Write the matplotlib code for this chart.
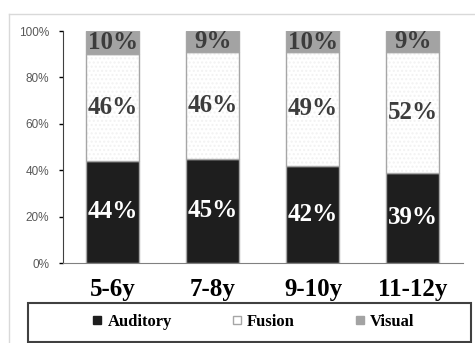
import matplotlib.pyplot as plt
import numpy as np
from matplotlib.lines import Line2D
from matplotlib.patches import Rectangle
from matplotlib.ticker import PercentFormatter

ages = ['5-6y', '7-8y', '9-10y', '11-12y']
auditory = [44, 45, 42, 39]
fusion = [46, 46, 49, 52]
visual = [10, 9, 10, 9]

SERIF = ['Liberation Serif', 'DejaVu Serif']
SANS = ['Liberation Sans', 'DejaVu Sans']

plt.rcParams['font.family'] = SANS

fig = plt.figure(figsize=(4.75, 3.43), dpi=100)
ax = fig.add_axes([0.1326, 0.2332, 0.842, 0.6764])

x = np.arange(len(ages))
w = 0.53
edge = '#a6a6a6'

aud = np.array(auditory)
fus = np.array(fusion)
vis = np.array(visual)

ax.bar(x, aud, w, color='#1e1e1e', edgecolor=edge, linewidth=1)
# fusion gets a faint dotted texture, outline drawn on top
ax.bar(x, fus, w, bottom=aud, color='white', edgecolor='#f2f2f2',
       hatch='....', linewidth=0)
ax.bar(x, fus, w, bottom=aud, fill=False, edgecolor=edge, linewidth=1)
ax.bar(x, vis, w, bottom=aud + fus, color='#a3a3a3', edgecolor=edge,
       linewidth=1)

lbl = dict(ha='center', va='center', family=SERIF, fontweight='bold',
           fontsize=18)
for i in x:
    ax.text(i, aud[i] / 2, f'{aud[i]}%', color='white', **lbl)
    ax.text(i, aud[i] + fus[i] / 2, f'{fus[i]}%', color='#3c3c3c', **lbl)
    top = min(aud[i] + fus[i] + vis[i] / 2, 100 - vis[i] / 2)
    ax.text(i, top, f'{vis[i]}%', color='#3c3c3c', **lbl)

ax.set_xlim(-0.5, 3.5)
ax.set_ylim(0, 100)
ax.yaxis.set_major_formatter(PercentFormatter(decimals=0))
ax.set_yticks(range(0, 101, 20))
ax.tick_params(axis='y', direction='out', length=3, width=1,
               labelsize=8.5, labelcolor='#595959', pad=7)
ax.set_xticks(x)
ax.set_xticklabels(ages, family=SERIF, fontweight='bold', fontsize=18)
ax.tick_params(axis='x', length=0, pad=11)

for s in ['top', 'right']:
    ax.spines[s].set_visible(False)
ax.spines['left'].set_color('#404040')
ax.spines['bottom'].set_color('#808080')

# outer chart frame
fig.add_artist(Line2D([0.019, 1.0], [0.959, 0.959], color='#d9d9d9', lw=1))
fig.add_artist(Line2D([0.019, 0.019], [0.0, 0.959], color='#d9d9d9', lw=1))

# legend box
box = (0.059, 0.004, 0.933, 0.113)
fig.add_artist(Rectangle(box[:2], box[2], box[3], transform=fig.transFigure,
                         fill=False, edgecolor='#404040', linewidth=1.5))

handles = [
    Line2D([], [], marker='s', ls='', markersize=6, markerfacecolor='#1e1e1e',
           markeredgecolor='#1e1e1e'),
    Line2D([], [], marker='s', ls='', markersize=6, markerfacecolor='white',
           markeredgecolor='#a6a6a6'),
    Line2D([], [], marker='s', ls='', markersize=6, markerfacecolor='#a3a3a3',
           markeredgecolor='#a3a3a3'),
]
fig.legend(handles, ['Auditory', 'Fusion', 'Visual'], ncol=3,
           loc='center', bbox_to_anchor=(box[0] + box[2] / 2 + 0.006,
                                         box[1] + box[3] / 2),
           frameon=False, borderaxespad=0, columnspacing=3.5,
           handlelength=0.8, handletextpad=0.2,
           prop={'family': SERIF, 'weight': 'bold', 'size': 12})

fig.savefig('out.png', dpi=100)
